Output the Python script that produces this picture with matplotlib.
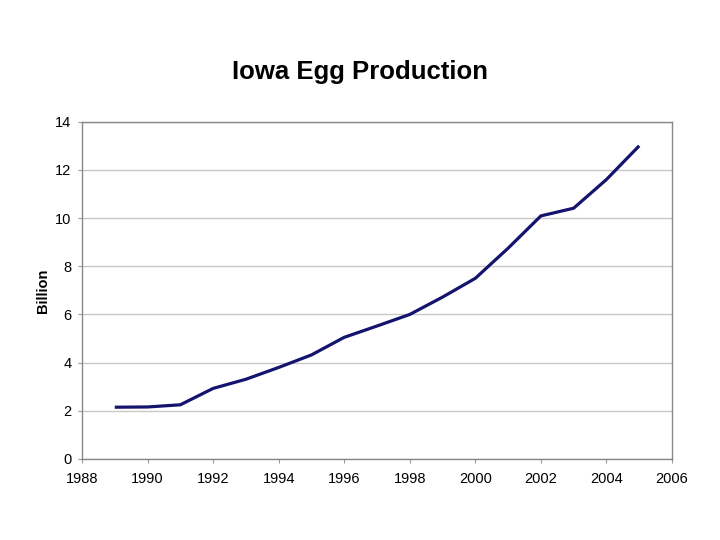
import matplotlib
matplotlib.use("Agg")
import matplotlib.pyplot as plt

years = [1989, 1990, 1991, 1992, 1993, 1994, 1995, 1996, 1997, 1998,
         1999, 2000, 2001, 2002, 2003, 2004, 2005]
production = [2.15, 2.16, 2.25, 2.93, 3.31, 3.80, 4.32, 5.05, 5.52, 6.0,
              6.72, 7.50, 8.75, 10.09, 10.41, 11.6, 13.0]
xticks = list(range(1988, 2007, 2))
yticks = list(range(0, 15, 2))

plt.rcParams['font.family'] = ['Liberation Sans', 'DejaVu Sans']

fig = plt.figure(figsize=(7.2, 5.4), dpi=100)
ax = fig.add_axes([0.1139, 0.15, 0.8194, 0.6246])

ax.plot(years, production, color='#14136e', linewidth=2.3, solid_capstyle='butt')

ax.set_xlim(1988, 2006)
ax.set_ylim(0, 14)
ax.set_xticks(xticks)
ax.set_yticks(yticks)
ax.tick_params(axis='both', labelsize=10.5, colors='#999999', labelcolor='black',
               length=3, width=0.8, direction='out')
ax.tick_params(axis='x', pad=6.5)
ax.tick_params(axis='y', pad=4.5)
ax.grid(axis='y', color='#c8c8c8', linewidth=1.0)
ax.set_axisbelow(True)
for s in ax.spines.values():
    s.set_color('#888888')
    s.set_linewidth(1.0)

ax.set_ylabel('Billion', fontsize=10.5, fontweight='bold', labelpad=4)
fig.text(0.5, 1 - 72/540, 'Iowa Egg Production', ha='center', va='center',
         fontsize=18.5, fontweight='bold')

fig.savefig('out.png', dpi=100)
